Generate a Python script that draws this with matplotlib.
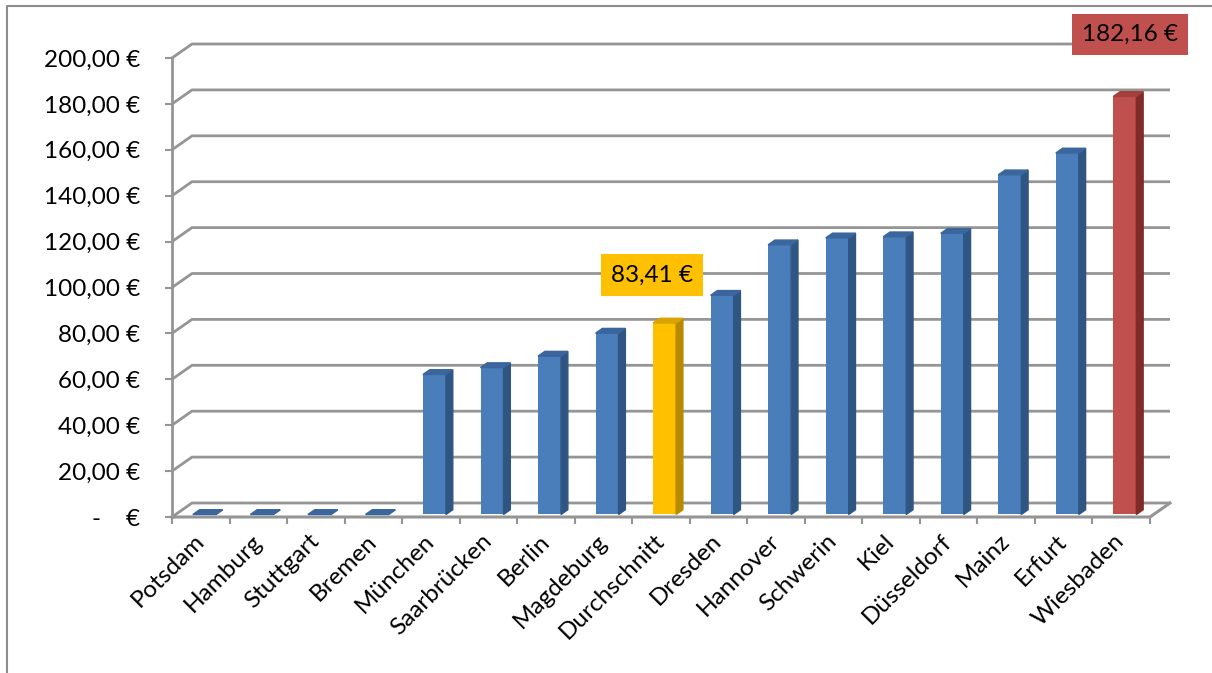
import matplotlib.pyplot as plt
from matplotlib.patches import Polygon
import numpy as np

plt.rcParams['font.family'] = ['Lato', 'DejaVu Sans']

# Daten
staedte = ["Potsdam", "Hamburg", "Stuttgart", "Bremen", "München", "Saarbrücken",
           "Berlin", "Magdeburg", "Durchschnitt", "Dresden", "Hannover", "Schwerin",
           "Kiel", "Düsseldorf", "Mainz", "Erfurt", "Wiesbaden"]
werte = [0, 0, 0, 0, 61.0, 64.0, 69.0, 79.0, 83.41, 95.5, 117.5, 120.5,
         121.0, 122.5, 148.0, 157.5, 182.16]
y_ticks = [0, 20, 40, 60, 80, 100, 120, 140, 160, 180, 200]

# Farben (vorne, Seite, oben)
farben = {"blau": ("#4A7EBB", "#2F5682", "#3A669D"),
          "gelb": ("#FFC000", "#B88A00", "#D9A400"),
          "rot": ("#C0504D", "#7E2B29", "#A33F3C")}
typ = ["blau"] * len(staedte)
typ[staedte.index("Durchschnitt")] = "gelb"
typ[staedte.index("Wiesbaden")] = "rot"

grau = "#959595"
fs = 17.5

fig = plt.figure(figsize=(12.12, 6.73), dpi=100)
ax = fig.add_axes([172 / 1212, (673 - 517) / 673, 978 / 1212, 459 / 673])
ax.set_xlim(0, len(staedte))
ax.set_ylim(0, 200)
for s in ax.spines.values():
    s.set_visible(False)
ax.patch.set_alpha(0)

# Tiefe (3D-Effekt) in Dateneinheiten
ddx = 20 / (978 / len(staedte))
ddy = 14 / (459 / 200)

# Gitterlinien (Rückwand)
for v in y_ticks:
    ax.plot([0, ddx, len(staedte) + ddx], [v, v + ddy, v + ddy],
            color=grau, lw=2, zorder=1, clip_on=False, solid_capstyle="butt")
# Boden
ax.plot([0, len(staedte), len(staedte) + ddx], [0, 0, ddy],
        color=grau, lw=2.2, zorder=1, clip_on=False)
# Y-Achse vorne
ax.plot([0, 0], [0, 200], color=grau, lw=2, zorder=1, clip_on=False)

# Balken
f0, f1 = 0.18, 0.52
breite = 0.4
x = np.arange(len(staedte)) + 0.5 + f0 * ddx
b = f0 * ddy
d = f1 - f0
for xi, v, t in zip(x, werte, typ):
    vorne, seite, oben = farben[t]
    ax.bar(xi, v, bottom=b, width=breite, color=vorne, zorder=3)
    xr = xi + breite / 2
    xl = xi - breite / 2
    ax.add_patch(Polygon([(xr, b), (xr + d * ddx, b + d * ddy),
                          (xr + d * ddx, b + d * ddy + v), (xr, b + v)],
                         closed=True, color=seite, zorder=3, clip_on=False))
    ax.add_patch(Polygon([(xl, b + v), (xr, b + v),
                          (xr + d * ddx, b + v + d * ddy), (xl + d * ddx, b + v + d * ddy)],
                         closed=True, color=oben, zorder=3, clip_on=False))

# Achsenbeschriftung
def euro(v):
    if v == 0:
        return "-    €"
    return f"{v:.2f} €".replace(".", ",")

ax.set_yticks(y_ticks)
ax.set_yticklabels([euro(v) for v in y_ticks])
ax.tick_params(axis="y", length=5, width=1.5, color=grau, pad=18, labelsize=fs)

ax.set_xticks(np.arange(len(staedte) + 1))
ax.set_xticklabels([])
ax.set_xticks(np.arange(len(staedte)) + 0.5, minor=True)
ax.set_xticklabels(staedte, minor=True, rotation=45, ha="right", va="center",
                   rotation_mode="anchor", fontsize=fs)
ax.tick_params(axis="x", which="major", length=5, width=1.5, color=grau)
ax.tick_params(axis="x", which="minor", length=0, pad=15)

# Wertelabels
i_d = staedte.index("Durchschnitt")
ax.text(i_d + 0.34, werte[i_d] + 22, euro(werte[i_d]), ha="center", va="center",
        fontsize=fs, zorder=5,
        bbox=dict(boxstyle="square,pad=0.42", fc="#FFC000", ec="none"))
i_w = staedte.index("Wiesbaden")
ax.text(i_w + 0.65, werte[i_w] + 28, euro(werte[i_w]), ha="center", va="center",
        fontsize=fs, zorder=5,
        bbox=dict(boxstyle="square,pad=0.42", fc="#C0504D", ec="none"))

# Rahmen
fig.add_artist(plt.Line2D([7 / 1212, 7 / 1212, 1], [0, 1 - 6 / 673, 1 - 6 / 673],
                          transform=fig.transFigure, color="#8c8c8c", lw=1.5))

fig.savefig("out.png", dpi=100)
